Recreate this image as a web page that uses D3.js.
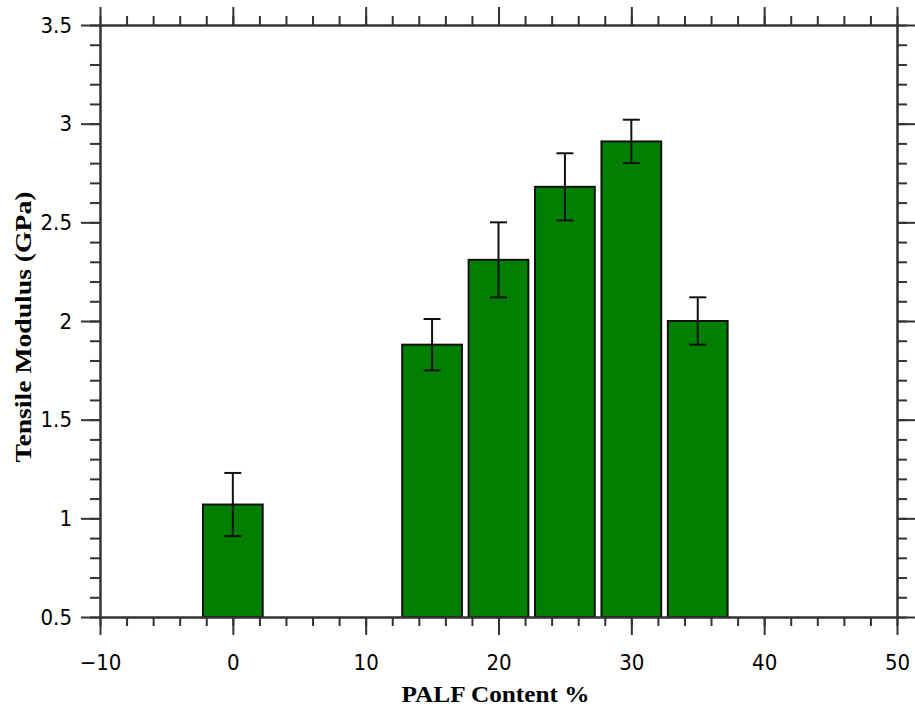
<!DOCTYPE html>
<html>
<head>
<meta charset="utf-8">
<script src="https://cdn.jsdelivr.net/npm/d3@7"></script>
<style>
    body { margin: 0; background: #fff; }
    .tick text { font-family: 'Liberation Sans Narrow', 'DejaVu Sans Condensed', sans-serif; font-size: 22px; fill: #000; }
    .domain, .tick line { stroke: #333; stroke-width: 2px; }
    .title { font-family: 'Liberation Serif', 'Times New Roman', serif; font-weight: bold; font-size: 24px; fill: #000; }
</style>
</head>
<body>
<svg id="chart" width="915" height="713"></svg>
<script>
// PALF content (%) and tensile modulus (GPa) with std. deviation
const contents = [0, 15, 20, 25, 30, 35];
const modulus = [1.07, 1.88, 2.31, 2.68, 2.91, 2.00];
const errors = [0.16, 0.13, 0.19, 0.17, 0.11, 0.12];

const xMajor = [-10, 0, 10, 20, 30, 40, 50];
const xMinor = d3.range(-10, 51, 2);
const yMajor = [0.5, 1, 1.5, 2, 2.5, 3, 3.5];
const yMinor = d3.range(5, 36, 1).map(d => d / 10);

const barWidth = 4.5; // in x units

let svg = d3.select("#chart");
let pLeft = 100, pRight = 897, pTop = 25, pBottom = 617;

let x = d3.scaleLinear().domain([-10, 50]).range([pLeft, pRight]);
let y = d3.scaleLinear().domain([0.5, 3.5]).range([pBottom, pTop]);

// bars
svg.append("g").selectAll("rect")
    .data(contents)
    .join("rect")
    .attr("x", (d) => x(d - barWidth / 2))
    .attr("y", (d, i) => y(modulus[i]))
    .attr("width", x(barWidth) - x(0))
    .attr("height", (d, i) => y(0.5) - y(modulus[i]))
    .attr("fill", "#007f00")
    .attr("stroke", "#111")
    .attr("stroke-width", 2);

// error bars
let eb = svg.append("g").attr("stroke", "#111").attr("stroke-width", 2);
contents.forEach((c, i) => {
    let lo = y(modulus[i] - errors[i]), hi = y(modulus[i] + errors[i]);
    eb.append("line").attr("x1", x(c)).attr("x2", x(c)).attr("y1", lo).attr("y2", hi);
    eb.append("line").attr("x1", x(c) - 8.5).attr("x2", x(c) + 8.5).attr("y1", lo).attr("y2", lo);
    eb.append("line").attr("x1", x(c) - 8.5).attr("x2", x(c) + 8.5).attr("y1", hi).attr("y2", hi);
});

// minor ticks
svg.append("g").attr("transform", "translate(0," + pBottom + ")")
    .call(d3.axisBottom(x).tickValues(xMinor).tickSize(9).tickFormat("").tickSizeOuter(0));
svg.append("g").attr("transform", "translate(0," + pTop + ")")
    .call(d3.axisTop(x).tickValues(xMinor).tickSize(9).tickFormat("").tickSizeOuter(0));
svg.append("g").attr("transform", "translate(" + pLeft + ",0)")
    .call(d3.axisLeft(y).tickValues(yMinor).tickSize(10).tickFormat("").tickSizeOuter(0));
svg.append("g").attr("transform", "translate(" + pRight + ",0)")
    .call(d3.axisRight(y).tickValues(yMinor).tickSize(10).tickFormat("").tickSizeOuter(0));

// major ticks
svg.append("g").attr("transform", "translate(0," + pBottom + ")")
    .call(d3.axisBottom(x).tickValues(xMajor).tickSize(18).tickPadding(19).tickSizeOuter(0));
svg.append("g").attr("transform", "translate(0," + pTop + ")")
    .call(d3.axisTop(x).tickValues(xMajor).tickSize(18).tickFormat("").tickSizeOuter(0));
svg.append("g").attr("transform", "translate(" + pLeft + ",0)")
    .call(d3.axisLeft(y).tickValues(yMajor).tickSize(19).tickPadding(9).tickFormat(d3.format("~g")).tickSizeOuter(0));
svg.append("g").attr("transform", "translate(" + pRight + ",0)")
    .call(d3.axisRight(y).tickValues(yMajor).tickSize(18).tickFormat("").tickSizeOuter(0));

// axis titles
svg.append("text").attr("class", "title")
    .attr("x", (pLeft + pRight) / 2 - 3).attr("y", 702)
    .attr("text-anchor", "middle")
    .attr("textLength", 188).attr("lengthAdjust", "spacingAndGlyphs")
    .text("PALF Content %");
svg.append("text").attr("class", "title")
    .attr("transform", "translate(31," + 327 + ") rotate(-90)")
    .attr("text-anchor", "middle")
    .attr("textLength", 271).attr("lengthAdjust", "spacingAndGlyphs")
    .text("Tensile Modulus (GPa)");
</script>
</body>
</html>
